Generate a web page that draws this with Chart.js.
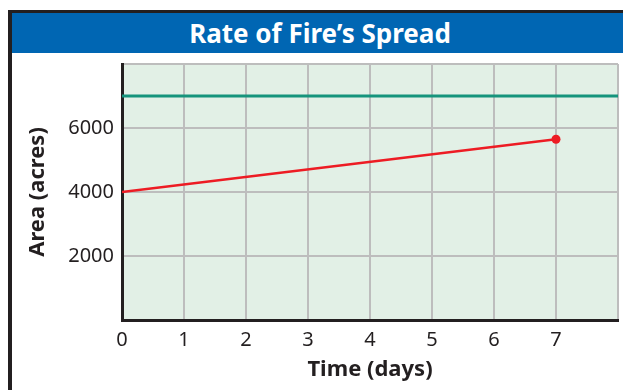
<!DOCTYPE html>
<html>
<head>
<meta charset="utf-8">
<script src="https://cdn.jsdelivr.net/npm/chart.js@4"></script>
<style>
  html, body { margin: 0; padding: 0; background: #fff; }
  body { width: 623px; height: 390px; position: relative; overflow: hidden; }
  .frame {
    position: absolute; left: 8px; top: 10px; width: 660px; height: 420px;
    border-left: 4px solid #231f20; border-top: 3px solid #231f20;
  }
  .header {
    position: absolute; left: 12px; top: 13px; width: 616px; height: 40px;
    background: #0066b3; color: #fff;
    font: bold 26px "Noto Sans", sans-serif;
    display: flex; align-items: center; justify-content: center;
  }
  #wrap { position: absolute; left: 0; top: 0; width: 623px; height: 390px; }
</style>
</head>
<body>
<div class="frame"></div>
<div class="header">Rate of Fire’s Spread</div>
<div id="wrap"><canvas id="fireChart"></canvas></div>
<script>
//  data for the chart
let days = [0, 7],
    area = [4000, 5650],
    limitDays = [0, 8],
    limitArea = [7000, 7000],
    xTicks = [0, 1, 2, 3, 4, 5, 6, 7],
    yTicks = [2000, 4000, 6000]

//  fills the plot area light green before anything else is drawn
const plotBackground = {
  id: 'plotBackground',
  beforeDraw(chart) {
    const { ctx, chartArea } = chart
    ctx.save()
    ctx.fillStyle = '#e2f0e6'
    ctx.fillRect(chartArea.left, chartArea.top, chartArea.right - chartArea.left, chartArea.bottom - chartArea.top)
    ctx.restore()
  }
}

const ctx = document.getElementById('fireChart')

new Chart(ctx, {
  type: 'line',
  data: {
    datasets: [{
      data: limitDays.map((d, i) => ({ x: d, y: limitArea[i] })),
      borderColor: '#15947c',
      borderWidth: 3,
      pointRadius: 0
    }, {
      data: days.map((d, i) => ({ x: d, y: area[i] })),
      borderColor: '#ed1c24',
      backgroundColor: '#ed1c24',
      borderWidth: 2.5,
      pointRadius: days.map((d, i) => i === days.length - 1 ? 4.5 : 0),
      pointBorderWidth: 0
    }]
  },
  options: {
    responsive: true,
    maintainAspectRatio: false,
    animation: false,
    layout: { padding: { left: 0, top: 64, right: 5, bottom: 0 } },
    plugins: { legend: { display: false }, tooltip: { enabled: false } },
    scales: {
      x: {
        type: 'linear',
        min: 0,
        max: 8,
        afterFit(scale) {
          scale.height = 70
          scale.paddingLeft = 0
          scale.paddingRight = 0
        },
        afterBuildTicks(scale) { scale.ticks = xTicks.concat([8]).map(v => ({ value: v })) },
        ticks: {
          color: '#231f20',
          font: { family: 'Noto Sans', size: 20 },
          padding: 8,
          callback: v => xTicks.includes(v) ? String(v) : ''
        },
        grid: { color: '#bdbdbd', lineWidth: 2, drawTicks: false },
        border: { color: '#231f20', width: 3 },
        title: {
          display: true,
          text: 'Time (days)',
          color: '#231f20',
          font: { family: 'Noto Sans', size: 22, weight: 'bold' },
          padding: { top: 0, bottom: 7 }
        }
      },
      y: {
        min: 0,
        max: 8000,
        afterFit(scale) {
          scale.width = 122
          scale.paddingTop = 0
          scale.paddingBottom = 0
        },
        afterBuildTicks(scale) { scale.ticks = [0].concat(yTicks, [8000]).map(v => ({ value: v })) },
        ticks: {
          color: '#231f20',
          font: { family: 'Noto Sans', size: 20 },
          padding: 8,
          callback: v => yTicks.includes(v) ? String(v) : ''
        },
        grid: { color: '#bdbdbd', lineWidth: 2, drawTicks: false },
        border: { color: '#231f20', width: 3 },
        title: {
          display: true,
          text: 'Area (acres)',
          color: '#231f20',
          font: { family: 'Noto Sans', size: 22, weight: 'bold' },
          padding: { top: 25, bottom: 0 }
        }
      }
    }
  },
  plugins: [plotBackground]
})
</script>
</body>
</html>
